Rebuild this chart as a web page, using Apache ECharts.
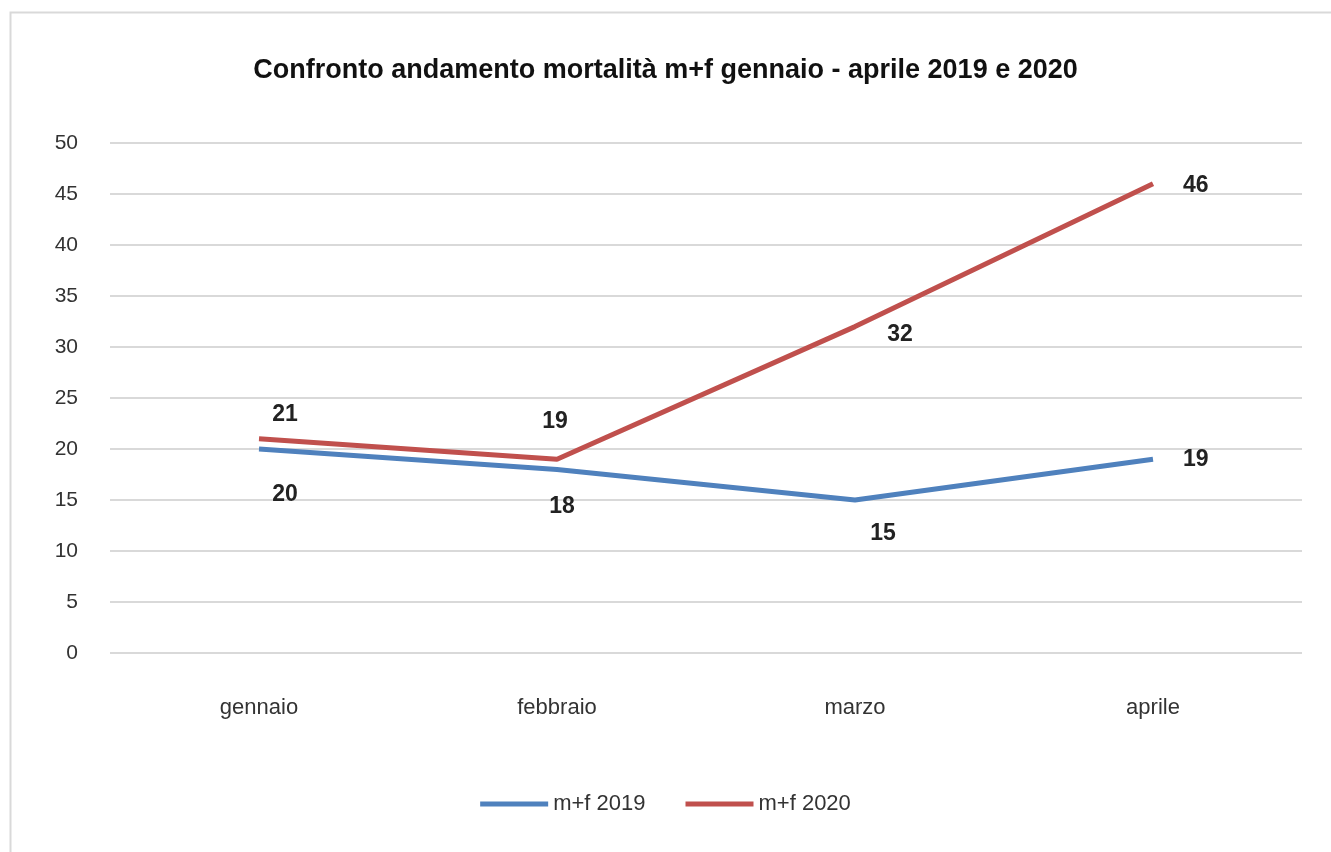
<!DOCTYPE html>
<html lang="it">
<head>
  <meta charset="UTF-8">
  <title>Confronto andamento mortalità</title>
  <style>
    * { box-sizing: border-box; padding: 0; margin: 0; }
    html, body, #main { width: 100%; height: 100%; background: #fff; }
  </style>
  <script src="https://cdn.jsdelivr.net/npm/echarts@6/dist/echarts.min.js"></script>
</head>
<body>
  <div id="main"></div>
  <script>
    var mesi = ['gennaio', 'febbraio', 'marzo', 'aprile'];
    var mf2019 = [20, 18, 15, 19];
    var mf2020 = [21, 19, 32, 46];

    var font = '"Liberation Sans Narrow", "Liberation Sans", Arial, sans-serif';

    // posizione delle etichette come nel grafico originale
    function lbl(pos, dx, dy) {
      return { label: { position: pos, offset: [dx, dy] } };
    }
    var pos2019 = [lbl('bottom', 26, 29), lbl('bottom', 5, 21), lbl('bottom', 28, 17), lbl('right', 25, 0)];
    var pos2020 = [lbl('top', 26, -8), lbl('top', -2, -21), lbl('bottom', 45, -8), lbl('right', 25, 2)];

    var myChart = echarts.init(document.getElementById('main'));
    var option = {
      color: ['#4F81BD', '#C0504D'],
      textStyle: { fontFamily: font },
      graphic: [{
        type: 'rect',
        shape: { x: 10.5, y: 12.5, width: 1330, height: 850 },
        style: { fill: 'none', stroke: '#d9d9d9', lineWidth: 2 }
      }],
      title: {
        text: 'Confronto andamento mortalità m+f gennaio - aprile 2019 e 2020',
        left: 'center',
        top: 52,
        textStyle: { fontSize: 27, fontWeight: 'bold', color: '#111', fontFamily: font }
      },
      legend: {
        bottom: 32,
        left: 'center',
        itemWidth: 68,
        itemHeight: 5,
        itemGap: 40,
        icon: 'rect',
        textStyle: { fontSize: 22, color: '#333' },
        data: ['m+f 2019', 'm+f 2020']
      },
      grid: { left: 110, right: 29, top: 143, bottom: 199 },
      xAxis: {
        type: 'category',
        data: mesi,
        boundaryGap: true,
        axisLine: { show: false },
        axisTick: { show: false },
        axisLabel: { fontSize: 22, color: '#333', margin: 44 }
      },
      yAxis: {
        type: 'value',
        min: 0,
        max: 50,
        interval: 5,
        axisLabel: { fontSize: 21, color: '#333', margin: 32 },
        splitLine: { lineStyle: { color: '#d9d9d9', width: 2 } }
      },
      series: [{
        name: 'm+f 2019',
        type: 'line',
        symbol: 'circle',
        symbolSize: 0,
        lineStyle: { width: 5 },
        label: { show: true, fontSize: 23, fontWeight: 'bold', color: '#222' },
        data: mf2019.map(function (v, i) { return Object.assign({ value: v }, pos2019[i]); })
      }, {
        name: 'm+f 2020',
        type: 'line',
        symbol: 'circle',
        symbolSize: 0,
        lineStyle: { width: 5 },
        label: { show: true, fontSize: 23, fontWeight: 'bold', color: '#222' },
        data: mf2020.map(function (v, i) { return Object.assign({ value: v }, pos2020[i]); })
      }]
    };
    myChart.setOption(option);
    window.onresize = myChart.resize;
  </script>
</body>
</html>
